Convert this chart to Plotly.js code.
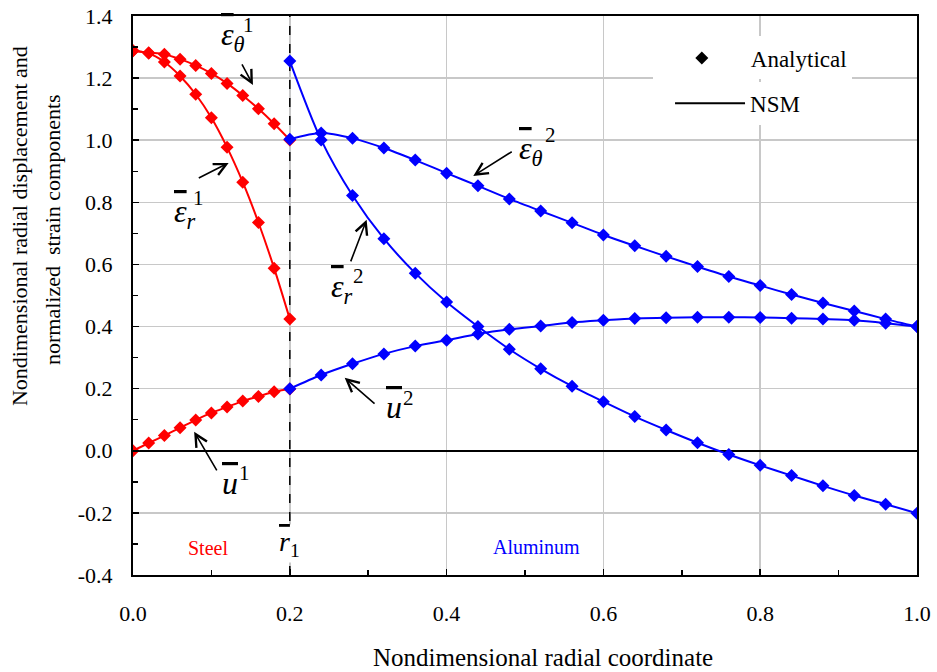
<!DOCTYPE html>
<html>
<head>
<meta charset="utf-8">
<script src="https://cdn.plot.ly/plotly-3.0.1.min.js"></script>
<style>html,body{margin:0;padding:0;background:#fff;}#chart{width:937px;height:672px;}</style>
</head>
<body>
<div id="chart"></div>
<script>
// ---- data ----
const xSteel = [0.00, 0.02, 0.04, 0.06, 0.08, 0.10, 0.12, 0.14, 0.16, 0.18, 0.20];
const epsTheta1 = [1.288, 1.282, 1.277, 1.261, 1.241, 1.215, 1.183, 1.144, 1.101, 1.053, 1.001];
const epsR1 = [1.288, 1.280, 1.252, 1.207, 1.148, 1.072, 0.977, 0.865, 0.735, 0.588, 0.424];
const u1 = [0.000, 0.025, 0.049, 0.074, 0.099, 0.122, 0.141, 0.160, 0.175, 0.190, 0.199];

const xAl = [0.20, 0.24, 0.28, 0.32, 0.36, 0.40, 0.44, 0.48, 0.52, 0.56, 0.60,
             0.64, 0.68, 0.72, 0.76, 0.80, 0.84, 0.88, 0.92, 0.96, 1.00];
const epsR2 = [1.255, 1.001, 0.822, 0.683, 0.572, 0.479, 0.400, 0.327, 0.264, 0.208, 0.158,
               0.110, 0.067, 0.026, -0.012, -0.047, -0.080, -0.113, -0.144, -0.172, -0.201];
const epsTheta2 = [1.003, 1.023, 1.006, 0.975, 0.936, 0.894, 0.853, 0.811, 0.772, 0.734, 0.695,
                   0.660, 0.626, 0.593, 0.561, 0.532, 0.503, 0.476, 0.450, 0.424, 0.400];
const u2 = [0.200, 0.244, 0.280, 0.312, 0.337, 0.356, 0.376, 0.391, 0.402, 0.413, 0.420,
            0.426, 0.428, 0.430, 0.430, 0.429, 0.427, 0.424, 0.420, 0.411, 0.400];

const xTickVals = [0, 0.2, 0.4, 0.6, 0.8, 1.0];
const xTickText = ['0.0', '0.2', '0.4', '0.6', '0.8', '1.0'];
const yTickVals = [-0.4, -0.2, 0, 0.2, 0.4, 0.6, 0.8, 1.0, 1.2, 1.4];
const yTickText = ['-0.4', '-0.2', '0.0', '0.2', '0.4', '0.6', '0.8', '1.0', '1.2', '1.4'];

const legendNames = ['Analytical', 'NSM'];
const regionLabels = ['Steel', 'Aluminum'];
const xTitle = 'Nondimensional radial coordinate';
const yTitleLines = ['Nondimensional radial displacement and', 'normalized  strain components'];
const r1 = 0.2;

// ---- styling ----
const FONT = 'Liberation Serif';
const RED = '#ff0000', BLUE = '#0000ff';

function series(x, y, color) {
  return {
    x: x, y: y, type: 'scatter', mode: 'lines+markers',
    line: {color: color, width: 2, shape: 'spline', smoothing: 0.8},
    marker: {symbol: 'diamond', size: 10, color: color},
    showlegend: false, hoverinfo: 'skip'
  };
}

const traces = [
  series(xSteel, epsTheta1, RED),
  series(xSteel, epsR1, RED),
  series(xSteel, u1, RED),
  series(xAl, epsR2, BLUE),
  series(xAl, epsTheta2, BLUE),
  series(xAl, u2, BLUE),
  {x: [null], y: [null], type: 'scatter', mode: 'markers', name: legendNames[0],
   marker: {symbol: 'diamond', size: 10, color: 'black'}, legend: 'legend', showlegend: true},
  {x: [null], y: [null], type: 'scatter', mode: 'lines', name: legendNames[1],
   line: {color: 'black', width: 2}, legend: 'legend2', showlegend: true}
];

function ov(s) { return '<span style="text-decoration:overline">' + s + '</span>'; }

function lab(x, y, text, size, color, anchor) {
  return {x: x, y: y, xref: 'x', yref: 'y', text: text, showarrow: false,
          xanchor: anchor || 'left', yanchor: 'middle',
          font: {family: FONT, size: size, color: color || 'black'}};
}
function arrow(tx, ty, hx, hy) {
  return {x: hx, y: hy, ax: tx, ay: ty, xref: 'x', yref: 'y', axref: 'x', ayref: 'y',
          text: '', showarrow: true, arrowhead: 5, arrowsize: 1.5, arrowwidth: 1.6,
          arrowcolor: 'black', standoff: 0, startstandoff: 0};
}
function paperText(x, y, text, size, angle) {
  return {x: x, y: y, xref: 'paper', yref: 'paper', text: text, showarrow: false,
          xanchor: 'center', yanchor: 'middle', textangle: angle || 0,
          font: {family: FONT, size: size, color: 'black'}};
}

const annotations = [
  // eps_theta^1
  lab(0.110, 1.333, ov('<i>ε</i>') + '<sub><i>θ</i></sub>', 32),
  lab(0.147, 1.372, '1', 21, 'black', 'center'),
  arrow(0.138, 1.249, 0.153, 1.178),
  // eps_r^1
  lab(0.050, 0.764, ov('<i>ε</i>') + '<sub><i>r</i></sub>', 32),
  lab(0.084, 0.815, '1', 21, 'black', 'center'),
  arrow(0.082, 0.876, 0.122, 0.927),
  // eps_theta^2
  lab(0.490, 0.966, ov('<i>ε</i>') + '<sub><i>θ</i></sub>', 32),
  lab(0.532, 1.017, '2', 21, 'black', 'center'),
  arrow(0.485, 0.966, 0.434, 0.885),
  // eps_r^2
  lab(0.250, 0.522, ov('<i>ε</i>') + '<sub><i>r</i></sub>', 32),
  lab(0.287, 0.563, '2', 21, 'black', 'center'),
  arrow(0.277, 0.605, 0.298, 0.744),
  // u^2
  lab(0.320, 0.142, ov('<i>u</i>'), 32),
  lab(0.352, 0.171, '2', 21, 'black', 'center'),
  arrow(0.310, 0.148, 0.270, 0.235),
  // u^1
  lab(0.111, -0.105, ov('<i>u</i>'), 32),
  lab(0.142, -0.071, '1', 21, 'black', 'center'),
  arrow(0.108, -0.068, 0.078, 0.061),
  // region labels
  lab(0.096, -0.312, regionLabels[0], 20, RED, 'center'),
  lab(0.515, -0.309, regionLabels[1], 20, BLUE, 'center'),
  Object.assign(lab(r1, -0.300, ov('<i>r</i>') + '<sub>1</sub>', 28, 'black', 'center'), {bgcolor: 'white'}),
  // axis titles
  paperText(0.523, -0.147, xTitle, 25),
  paperText(-0.1454, 0.6243, yTitleLines[0], 22, -90),
  paperText(-0.1020, 0.6172, yTitleLines[1], 22, -90)
];

const layout = {
  width: 937, height: 672,
  margin: {l: 133, r: 20, t: 16, b: 97},
  paper_bgcolor: 'white', plot_bgcolor: 'white',
  font: {family: FONT, size: 20, color: 'black'},
  xaxis: {
    range: [0, 1], tickmode: 'array', tickvals: xTickVals, ticktext: xTickText,
    ticks: 'inside', ticklen: 6, tickwidth: 1.5, tickcolor: 'black',
    ticklabelstandoff: 18,
    showgrid: true, gridcolor: '#c8c8c8', gridwidth: 1.5,
    zeroline: false, showline: true, linecolor: 'black', linewidth: 2, mirror: true,
    minor: {tickmode: 'linear', tick0: 0, dtick: 0.1, ticks: 'inside', ticklen: 5,
            tickwidth: 1.5, tickcolor: 'black', showgrid: false},
    tickfont: {family: FONT, size: 22},
    automargin: false, fixedrange: true
  },
  yaxis: {
    range: [-0.4, 1.4], tickmode: 'array', tickvals: yTickVals, ticktext: yTickText,
    ticks: 'inside', ticklen: 6, tickwidth: 1.5, tickcolor: 'black',
    ticklabelstandoff: 14,
    showgrid: true, gridcolor: '#c8c8c8', gridwidth: 1.5,
    zeroline: true, zerolinecolor: 'black', zerolinewidth: 1.5,
    showline: true, linecolor: 'black', linewidth: 2, mirror: true,
    minor: {tickmode: 'linear', tick0: 0, dtick: 0.1, ticks: 'inside', ticklen: 5,
            tickwidth: 1.5, tickcolor: 'black', showgrid: false},
    tickfont: {family: FONT, size: 22},
    automargin: false, fixedrange: true
  },
  shapes: [
    {type: 'line', xref: 'x', yref: 'y', x0: r1, x1: r1, y0: -0.4, y1: 1.4,
     line: {color: 'black', width: 1.5, dash: 'dash'}, layer: 'between'}
  ],
  legend: {x: 0.663, y: 0.925, xanchor: 'left', yanchor: 'middle', bgcolor: 'white',
           borderwidth: 0, font: {family: FONT, size: 23}, itemwidth: 88},
  legend2: {x: 0.685, y: 0.844, xanchor: 'left', yanchor: 'middle', bgcolor: 'white',
            borderwidth: 0, font: {family: FONT, size: 23}, itemwidth: 70},
  annotations: annotations,
  hovermode: false
};

Plotly.newPlot('chart', traces, layout, {displayModeBar: false, staticPlot: true});
</script>
</body>
</html>
